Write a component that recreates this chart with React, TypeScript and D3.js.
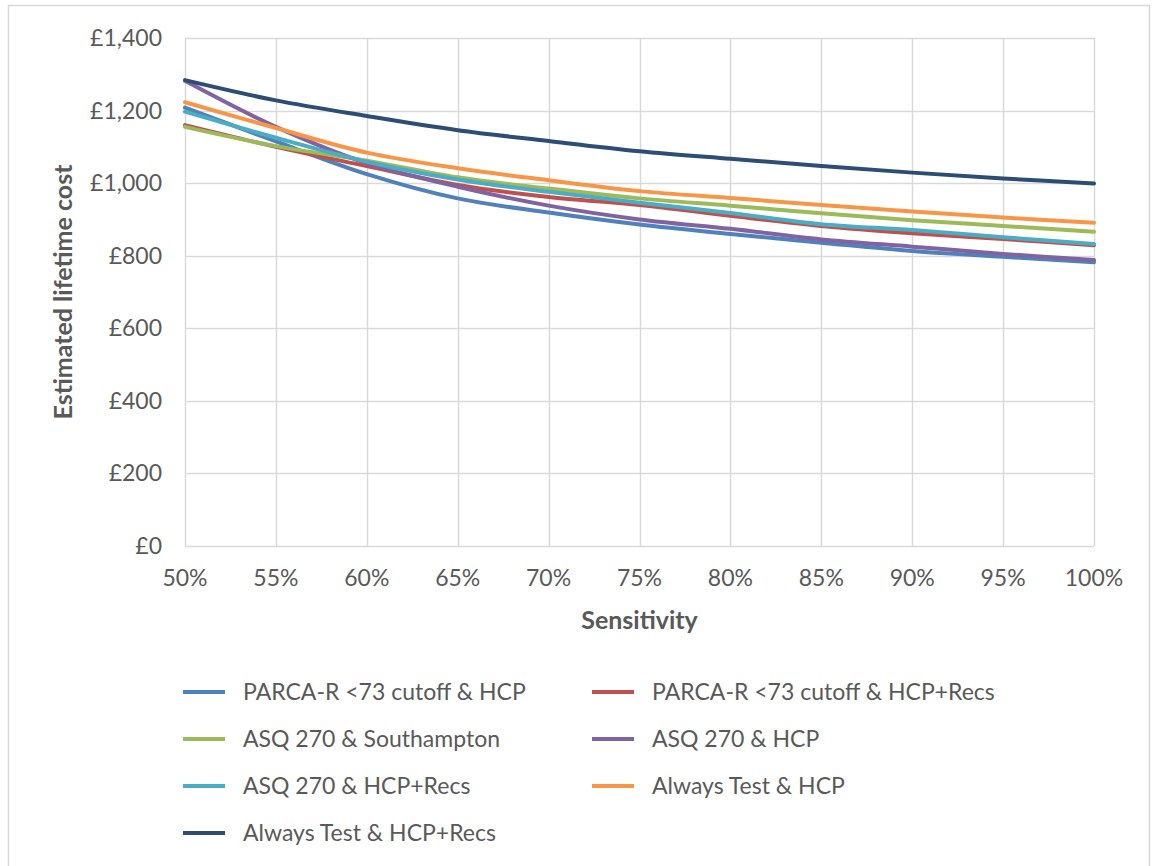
import React, {useEffect, useRef} from 'react'
import * as d3 from 'd3'

const sensitivity = [50, 55, 60, 65, 70, 75, 80, 85, 90, 95, 100]
const parcaHcp = [1208, 1115, 1025, 958, 919, 886, 860, 836, 813, 797, 782]
const parcaHcpRecs = [1160, 1100, 1047, 995, 962, 940, 910, 882, 862, 846, 829]
const asqSouthampton = [1155, 1102, 1062, 1016, 985, 958, 938, 917, 898, 882, 866]
const asqHcp = [1282, 1155, 1055, 990, 938, 900, 874, 845, 825, 805, 788]
const asqHcpRecs = [1197, 1125, 1059, 1010, 976, 946, 918, 887, 871, 851, 832]
const alwaysHcp = [1223, 1152, 1084, 1041, 1008, 978, 959, 940, 922, 905, 891]
const alwaysHcpRecs = [1284, 1228, 1185, 1146, 1116, 1088, 1067, 1047, 1029, 1013, 999]

const seriesNames = [
  'PARCA-R <73 cutoff & HCP',
  'PARCA-R <73 cutoff & HCP+Recs',
  'ASQ 270 & Southampton',
  'ASQ 270 & HCP',
  'ASQ 270 & HCP+Recs',
  'Always Test & HCP',
  'Always Test & HCP+Recs',
]
const seriesValues = [parcaHcp, parcaHcpRecs, asqSouthampton, asqHcp, asqHcpRecs, alwaysHcp, alwaysHcpRecs]
const colors = ['#4F81BD', '#C0504D', '#9BBB59', '#8064A2', '#4BACC6', '#F79646', '#2C4D75']
const yTicks = [0, 200, 400, 600, 800, 1000, 1200, 1400]

const W = 1154, H = 866
const margin = {top: 38, right: 60, bottom: 320, left: 185}
const font = 'Lato, "Open Sans", sans-serif'
const textColor = '#595959'

export default function App() {
  const ref = useRef<SVGSVGElement>(null)

  useEffect(() => {
    const svg = d3.select(ref.current)
    svg.selectAll('*').remove()

    const x = d3.scaleLinear().domain([50, 100]).range([margin.left, W - margin.right])
    const y = d3.scaleLinear().domain([0, 1400]).range([546, margin.top])

    svg.append('rect')
      .attr('x', 0).attr('y', 0).attr('width', W).attr('height', H)
      .attr('fill', '#fff')
    svg.append('rect')
      .attr('x', 8.5).attr('y', 5.5).attr('width', 1141).attr('height', 880)
      .attr('fill', 'none').attr('stroke', '#D9D9D9').attr('stroke-width', 1.5)

    // gridlines
    svg.append('g').selectAll('line').data(yTicks).join('line')
      .attr('x1', x(50)).attr('x2', x(100))
      .attr('y1', d => Math.round(y(d)) + 0.5).attr('y2', d => Math.round(y(d)) + 0.5)
      .attr('stroke', '#D9D9D9').attr('stroke-width', 1.5)
    svg.append('g').selectAll('line').data(sensitivity).join('line')
      .attr('x1', d => Math.round(x(d)) + 0.5).attr('x2', d => Math.round(x(d)) + 0.5)
      .attr('y1', y(1400)).attr('y2', y(0))
      .attr('stroke', '#D9D9D9').attr('stroke-width', 1.5)

    // tick labels
    const fmt = d3.format(',')
    svg.append('g').selectAll('text').data(yTicks).join('text')
      .attr('x', 162).attr('y', d => y(d)).attr('dy', '0.35em')
      .attr('text-anchor', 'end')
      .attr('font-family', font).attr('font-size', 23).attr('fill', textColor)
      .text(d => '£' + fmt(d))
    svg.append('g').selectAll('text').data(sensitivity).join('text')
      .attr('x', d => x(d)).attr('y', 586)
      .attr('text-anchor', 'middle')
      .attr('font-family', font).attr('font-size', 23).attr('fill', textColor)
      .text(d => d + '%')

    // axis titles
    svg.append('text')
      .attr('transform', `translate(72,${(y(0) + y(1400)) / 2}) rotate(-90)`)
      .attr('text-anchor', 'middle')
      .attr('font-family', font).attr('font-size', 25).attr('font-weight', 'bold').attr('fill', textColor)
      .text('Estimated lifetime cost')
    svg.append('text')
      .attr('x', (x(50) + x(100)) / 2).attr('y', 629)
      .attr('text-anchor', 'middle')
      .attr('font-family', font).attr('font-size', 25).attr('font-weight', 'bold').attr('fill', textColor)
      .text('Sensitivity')

    // lines
    const line = d3.line<number>()
      .x((d, i) => x(sensitivity[i]))
      .y(d => y(d))
      .curve(d3.curveCatmullRom.alpha(0.5))
    svg.append('g').selectAll('path').data(seriesValues).join('path')
      .attr('d', d => line(d))
      .attr('fill', 'none')
      .attr('stroke', (d, i) => colors[i])
      .attr('stroke-width', 4)
      .attr('stroke-linecap', 'round')

    // legend
    const leg = svg.append('g').selectAll('g').data(seriesNames).join('g')
      .attr('transform', (d, i) => `translate(${i % 2 === 0 ? 183 : 592},${692 + Math.floor(i / 2) * 47})`)
    leg.append('line')
      .attr('x1', 0).attr('x2', 42).attr('y1', 0).attr('y2', 0)
      .attr('stroke', (d, i) => colors[i]).attr('stroke-width', 4)
    leg.append('text')
      .attr('x', 60).attr('y', 0).attr('dy', '0.35em')
      .attr('font-family', font).attr('font-size', 23).attr('fill', textColor)
      .text(d => d)
  }, [])

  return (
    <svg ref={ref} width={W} height={H}
      style={{position: 'absolute', left: 0, top: 0, display: 'block'}} />
  )
}
